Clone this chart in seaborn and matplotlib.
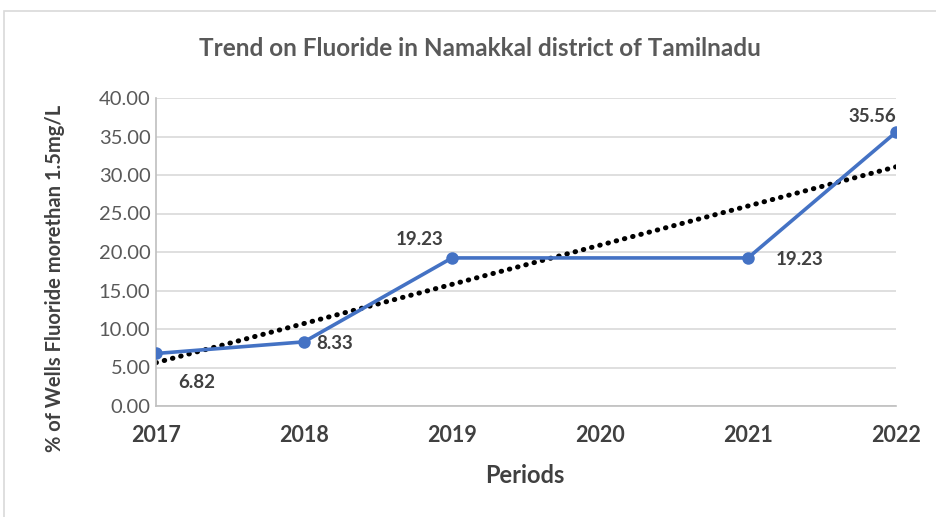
import numpy as np
import pandas as pd
import matplotlib
matplotlib.use("Agg")
import matplotlib.pyplot as plt
import seaborn as sns
from matplotlib.patches import Rectangle

years = [2017, 2018, 2019, 2020, 2021, 2022]
values = [6.82, 8.33, 19.23, np.nan, 19.23, 35.56]
label_offsets = [(29, -21), (22, -1.5), (-23, 13), None, (37, -1), (-17, 11)]
title = "Trend on Fluoride in Namakkal district of Tamilnadu"
xlabel = "Periods"
ylabel = "% of Wells Fluoride morethan 1.5mg/L"

sns.set_theme(style="white")
plt.rcParams['font.family'] = ['Lato', 'DejaVu Sans']

fig = plt.figure(figsize=(9.37, 5.17), dpi=100)
fig.patches.append(Rectangle((4/937, -0.1), 1.2, 1 - 11/517 + 0.1, transform=fig.transFigure,
                             facecolor='none', edgecolor='#D9D9D9', linewidth=1.2, zorder=0))
ax = fig.add_axes([156/937, 1 - 406/517, (896-156)/937, (406-98)/517])

df = pd.DataFrame({"year": years, "value": values})
valid = df.dropna()

# trendline (linear fit)
coef = np.polyfit(valid["year"], valid["value"], 1)
tx = np.array([years[0], years[-1]])
ax.plot(tx, np.polyval(coef, tx), color='black', linestyle=(0, (0.1, 1.6)), linewidth=3.6,
        dash_capstyle='round', zorder=2)

sns.lineplot(data=valid, x="year", y="value", ax=ax, color='#4472C4', linewidth=2.6,
             marker='o', markersize=9, markeredgewidth=0, zorder=3)

for yr, v, off in zip(years, values, label_offsets):
    if off is None or np.isnan(v):
        continue
    ax.annotate(f"{v:.2f}", (yr, v), xytext=off, textcoords='offset points',
                ha='center', va='center', fontsize=13.5, fontweight='bold', color='#404040')

ax.set_xlim(2017, 2022)
ax.set_ylim(0, 40)
ax.set_yticks(np.arange(0, 41, 5))
ax.set_yticklabels([f"{t:.2f}" for t in np.arange(0, 41, 5)], fontsize=14.5, color='#595959')
ax.set_xticks(years)
ax.set_xticklabels([str(y) for y in years], fontsize=15.5, fontweight='bold', color='#404040')
ax.tick_params(axis='x', pad=14, length=0)
ax.tick_params(axis='y', pad=4, length=0)
ax.yaxis.grid(True, color='#D9D9D9', linewidth=1.2)
ax.set_axisbelow(True)
for s in ['top', 'right']:
    ax.spines[s].set_visible(False)
for s in ['left', 'bottom']:
    ax.spines[s].set_color('#BFBFBF')
    ax.spines[s].set_linewidth(1.2)

ax.set_xlabel(xlabel, fontsize=17, fontweight='bold', color='#404040')
ax.xaxis.set_label_coords((525 - 156) / (896 - 156), -(464 - 406) / (406 - 98))
ax.set_ylabel(ylabel, fontsize=14.5, fontweight='bold', color='#404040')
ax.yaxis.set_label_coords(-(156 - 65) / (896 - 156), (406 - 278) / (406 - 98))
fig.text(480/937, 1 - 48/517, title, ha='center', va='center', fontsize=17.5,
         fontweight='bold', color='#595959')

fig.savefig("out.png", dpi=100)
